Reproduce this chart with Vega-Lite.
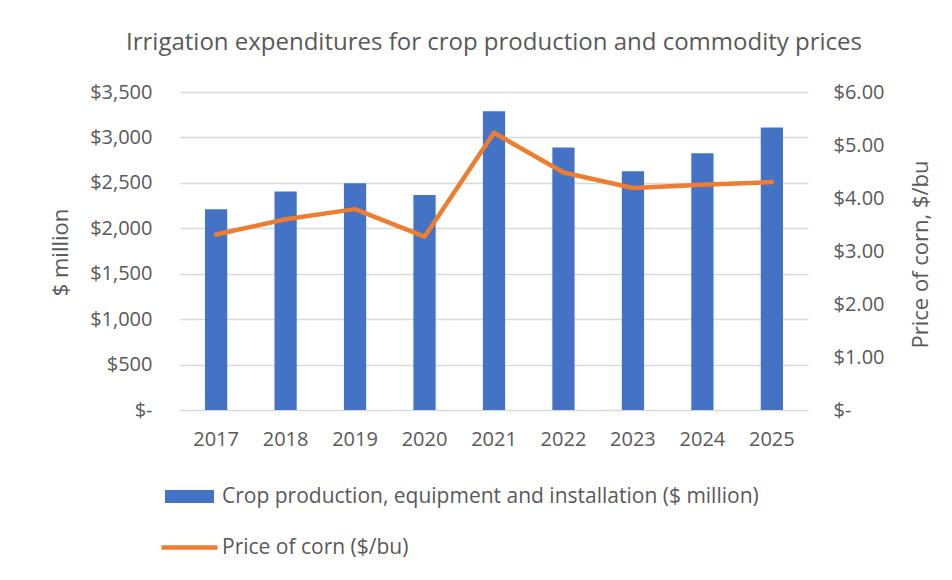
{
  "$schema": "https://vega.github.io/schema/vega-lite/v6.json",
  "width": 628,
  "height": 318,
  "autosize": "none",
  "padding": {"left": 180, "top": 92, "right": 144, "bottom": 170},
  "background": "white",
  "title": {
    "text": "Irrigation expenditures for crop production and commodity prices",
    "font": "Open Sans",
    "fontSize": 24,
    "fontWeight": "normal",
    "color": "#595959",
    "offset": 27,
    "anchor": "middle"
  },
  "data": {
    "values": [
      {"year": "2017", "expenditure": 2210, "price": 3.31},
      {"year": "2018", "expenditure": 2405, "price": 3.60},
      {"year": "2019", "expenditure": 2495, "price": 3.79},
      {"year": "2020", "expenditure": 2365, "price": 3.27},
      {"year": "2021", "expenditure": 3287, "price": 5.23},
      {"year": "2022", "expenditure": 2890, "price": 4.48},
      {"year": "2023", "expenditure": 2627, "price": 4.19},
      {"year": "2024", "expenditure": 2825, "price": 4.25},
      {"year": "2025", "expenditure": 3110, "price": 4.30}
    ]
  },
  "encoding": {
    "x": {
      "field": "year",
      "type": "ordinal",
      "scale": {"paddingInner": 0.68, "paddingOuter": 0.36},
      "axis": {
        "title": null,
        "labelAngle": 0,
        "domain": false,
        "ticks": false,
        "labelPadding": 19,
        "labelFontSize": 20,
        "labelColor": "#595959",
        "labelFont": "Open Sans"
      }
    }
  },
  "layer": [
    {
      "mark": {"type": "bar"},
      "encoding": {
        "y": {
          "field": "expenditure",
          "type": "quantitative",
          "scale": {"domain": [0, 3500]},
          "axis": {
            "orient": "left",
            "values": [0, 500, 1000, 1500, 2000, 2500, 3000, 3500],
            "labelExpr": "datum.value == 0 ? '$-\u00a0\u00a0' : '$' + format(datum.value, ',')",
            "domain": false,
            "ticks": false,
            "grid": true,
            "gridColor": "#d9d9d9",
            "gridWidth": 1.3,
            "labelPadding": 28,
            "labelFontSize": 20,
            "labelColor": "#595959",
            "labelFont": "Open Sans",
            "title": "$ million",
            "titleFont": "Open Sans",
            "titleFontSize": 22,
            "titleFontWeight": "normal",
            "titleColor": "#595959",
            "titleAngle": -90,
            "titleAlign": "center",
            "titleBaseline": "middle",
            "titleX": -120,
            "titleY": 160
          }
        },
        "fill": {
          "datum": "Crop production, equipment and installation ($ million)",
          "scale": {"range": ["#4472C4"]},
          "legend": {
            "title": null,
            "orient": "none",
            "legendX": -15,
            "legendY": 380,
            "padding": 0,
            "symbolType": "M-1,-0.27H1V0.27H-1Z",
            "symbolSize": 2401,
            "symbolStrokeWidth": 0,
            "symbolOpacity": 1,
            "labelOffset": 8,
            "labelFontSize": 21,
            "labelColor": "#595959",
            "labelFont": "Open Sans",
            "labelLimit": 800
          }
        }
      }
    },
    {
      "mark": {"type": "line", "strokeWidth": 4.5, "strokeCap": "round", "strokeJoin": "round"},
      "encoding": {
        "y": {
          "field": "price",
          "type": "quantitative",
          "scale": {"domain": [0, 6]},
          "axis": {
            "orient": "right",
            "values": [0, 1, 2, 3, 4, 5, 6],
            "labelExpr": "datum.value == 0 ? '$-' : '$' + format(datum.value, '.2f')",
            "domain": false,
            "ticks": false,
            "grid": false,
            "labelPadding": 25,
            "labelFontSize": 20,
            "labelColor": "#595959",
            "labelFont": "Open Sans",
            "title": "Price of corn, $/bu",
            "titleFont": "Open Sans",
            "titleFontSize": 22,
            "titleFontWeight": "normal",
            "titleColor": "#595959",
            "titleAngle": -90,
            "titleAlign": "center",
            "titleBaseline": "middle",
            "titleX": 112,
            "titleY": 162
          }
        },
        "stroke": {
          "datum": "Price of corn ($/bu)",
          "scale": {"range": ["#ED7D31"]},
          "legend": {
            "title": null,
            "orient": "none",
            "legendX": -21,
            "legendY": 425,
            "padding": 0,
            "symbolType": "stroke",
            "symbolSize": 3136,
            "symbolStrokeWidth": 4.5,
            "labelOffset": 2,
            "labelFontSize": 21,
            "labelColor": "#595959",
            "labelFont": "Open Sans",
            "labelLimit": 800
          }
        }
      }
    }
  ],
  "resolve": {"scale": {"y": "independent"}},
  "config": {"view": {"stroke": null}, "font": "Open Sans"}
}
